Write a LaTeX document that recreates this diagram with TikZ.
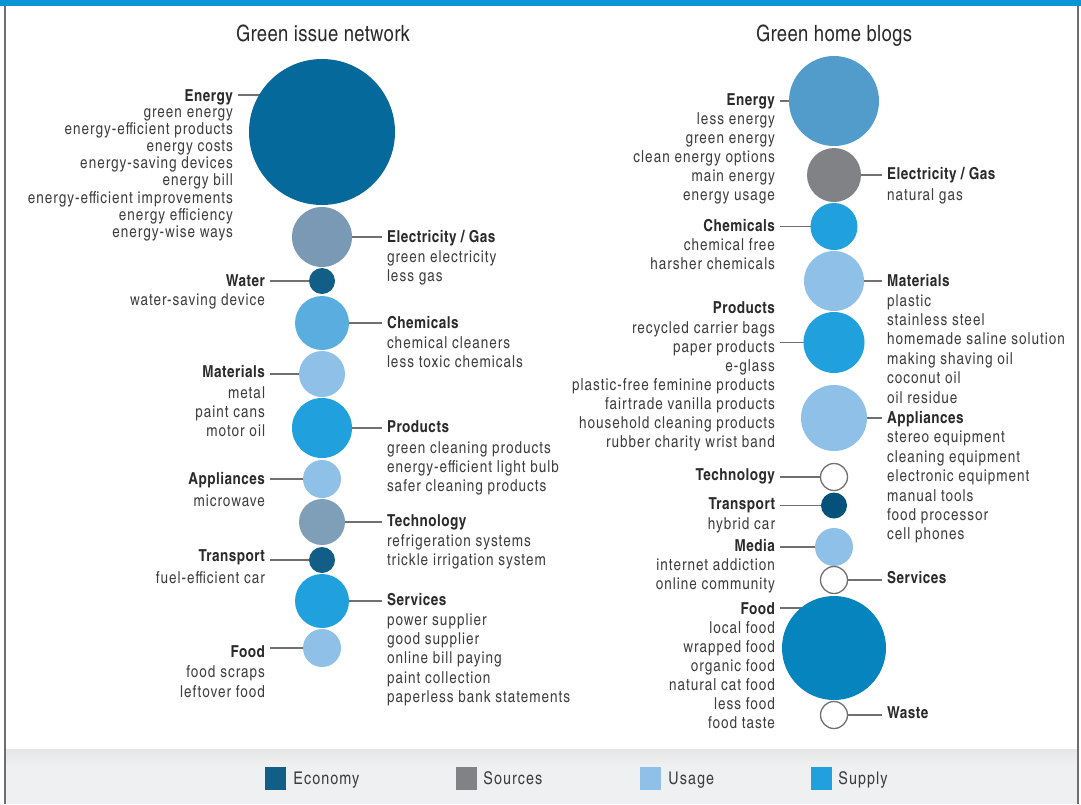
\documentclass[tikz,border=0pt]{standalone}
\usepackage{fontspec}
\setmainfont{texgyreheroscn}[Extension=.otf,UprightFont=*-regular,BoldFont=*-bold,ItalicFont=*-italic,BoldItalicFont=*-bolditalic,LetterSpace=6,BoldFeatures={LetterSpace=3}]
\newfontfamily\titlefont{texgyreheroscn}[Extension=.otf,UprightFont=*-regular,BoldFont=*-bold,LetterSpace=1.5]
\usetikzlibrary{positioning,backgrounds}

\definecolor{economy}{HTML}{135E86}
\definecolor{sources}{HTML}{808285}
\definecolor{usage}{HTML}{8FC0E8}
\definecolor{supply}{HTML}{20A0DC}
\definecolor{deepblue}{HTML}{05699B}
\definecolor{slateblue}{HTML}{7A99B5}
\definecolor{steelblue}{HTML}{7F9FB8}
\definecolor{midblue}{HTML}{5AAEDF}
\definecolor{skyblue}{HTML}{529CCB}
\definecolor{navyblue}{HTML}{04527C}
\definecolor{oceanblue}{HTML}{0584BE}
\definecolor{topbar}{HTML}{0A96D6}
\definecolor{framegray}{HTML}{6D6E71}
\definecolor{linegray}{HTML}{707070}
\definecolor{headgray}{HTML}{2A2A2A}
\definecolor{itemgray}{HTML}{3D3D3D}
\definecolor{legendgray}{HTML}{EFF0F2}

\begin{document}
\begin{tikzpicture}[x=1pt,y=-1pt,
		bubble/.style={circle,inner sep=0pt,minimum size=#1},
		hollow/.style={circle,inner sep=0pt,minimum size=27,draw=linegray,line width=1.3pt,fill=white},
		hd/.style={font=\bfseries\fontsize{16.5}{19.4}\selectfont,text=headgray,inner sep=0pt,outer xsep=5pt,text height=12pt,text depth=0pt},
		it/.style={font=\fontsize{16.5}{19.4}\selectfont,text=itemgray,inner sep=0pt,outer xsep=5pt,execute at begin node={\rule{0pt}{13pt}}},
		title/.style={font=\titlefont\fontsize{22.5}{26}\selectfont,text=headgray,inner sep=0pt,anchor=base},
		leader/.style={draw=linegray,line width=1.3pt},
		swatch/.style={rectangle,inner sep=0pt,minimum width=21,minimum height=23},
		keytext/.style={font=\fontsize{17.5}{20}\selectfont,text=itemgray,inner sep=0pt,text height=12.5pt,text depth=0pt}]
		
		\useasboundingbox (0,0) rectangle (1081,804);
		\fill[topbar] (0,0) rectangle (1081,6);
		\fill[legendgray] (5,749) rectangle (1078,804);
		\shade[top color=black!10,bottom color=legendgray] (5,749) rectangle (1078,766);
		\draw[framegray,line width=1.8pt] (5,6) -- (5,804) (1078,6) -- (1078,804);
		
		\node[title] (ititle) at (323,41) {Green issue network};
		\node[title] (btitle) at (834,41) {Green home blogs};
		
		\node[bubble=146,fill=deepblue] (ienergy) at (322,132) {};
		\node[bubble=60,fill=slateblue] (ielec) at (322,237) {};
		\node[bubble=26,fill=economy] (iwater) at (322,281) {};
		\node[bubble=54,fill=midblue] (ichem) at (322,323) {};
		\node[bubble=46,fill=usage] (imat) at (322,374) {};
		\node[bubble=60,fill=supply] (iprod) at (322,428) {};
		\node[bubble=38,fill=usage] (iappl) at (322,479) {};
		\node[bubble=46,fill=steelblue] (itech) at (322,522) {};
		\node[bubble=26,fill=economy] (itrans) at (322,560) {};
		\node[bubble=54,fill=supply] (iserv) at (322,601) {};
		\node[bubble=38,fill=usage] (ifood) at (322,648) {};
		
		\node[hd,anchor=base east] (ienergyhd) at (238,101) {Energy};
		\node[it,align=right,font=\fontsize{16.5}{17.1}\selectfont,below left=7.5pt and 0pt of ienergyhd.base east] (ienergyit) {green energy\\energy-efficient products\\energy costs\\energy-saving devices\\energy bill\\energy-efficient improvements\\energy efficiency\\energy-wise ways};
		\node[hd,anchor=base east] (iwaterhd) at (270,286) {Water};
		\node[it,align=right,below left=6pt and 0pt of iwaterhd.base east] (iwaterit) {water-saving device};
		\node[hd,anchor=base east] (imathd) at (270,377) {Materials};
		\node[it,align=right,below left=9pt and 0pt of imathd.base east] (imatit) {metal\\paint cans\\motor oil};
		\node[hd,anchor=base east] (iapplhd) at (270,484) {Appliances};
		\node[it,align=right,below left=9pt and 0pt of iapplhd.base east] (iapplit) {microwave};
		\node[hd,anchor=base east] (itranshd) at (270,561) {Transport};
		\node[it,align=right,below left=9pt and 0pt of itranshd.base east] (itransit) {fuel-efficient car};
		\node[hd,anchor=base east] (ifoodhd) at (270,657) {Food};
		\node[it,align=right,below left=8.5pt and 0pt of ifoodhd.base east] (ifoodit) {food scraps\\leftover food};
		
		\node[hd,anchor=base west] (ielechd) at (382,242) {Electricity / Gas};
		\node[it,align=left,below right=8.5pt and 0pt of ielechd.base west] (ielecit) {green electricity\\less gas};
		\node[hd,anchor=base west] (ichemhd) at (382,328) {Chemicals};
		\node[it,align=left,below right=8pt and 0pt of ichemhd.base west] (ichemit) {chemical cleaners\\less toxic chemicals};
		\node[hd,anchor=base west] (iprodhd) at (382,432) {Products};
		\node[it,align=left,below right=9pt and 0pt of iprodhd.base west] (iprodit) {green cleaning products\\energy-efficient light bulb\\safer cleaning products};
		\node[hd,anchor=base west] (itechhd) at (382,526) {Technology};
		\node[it,align=left,below right=8pt and 0pt of itechhd.base west] (itechit) {refrigeration systems\\trickle irrigation system};
		\node[hd,anchor=base west] (iservhd) at (382,605) {Services};
		\node[it,align=left,below right=8pt and 0pt of iservhd.base west] (iservit) {power supplier\\good supplier\\online bill paying\\paint collection\\paperless bank statements};
		
		\node[bubble=90,fill=skyblue] (benergy) at (834,101) {};
		\node[bubble=54,fill=sources] (belec) at (834,175) {};
		\node[bubble=47,fill=supply] (bchem) at (834,226.5) {};
		\node[bubble=60,fill=usage] (bmat) at (834,281) {};
		\node[bubble=61,fill=supply] (bprod) at (834,342.5) {};
		\node[bubble=66,fill=usage] (bappl) at (834,418) {};
		\node[hollow] (btech) at (834,477) {};
		\node[bubble=26,fill=navyblue] (btrans) at (834,505.5) {};
		\node[bubble=38,fill=usage] (bmedia) at (834,547) {};
		\node[hollow] (bserv) at (834,580) {};
		\node[bubble=104,fill=oceanblue] (bfood) at (834,648) {};
		\node[hollow] (bwaste) at (834,715) {};
		
		\node[hd,anchor=base east] (benergyhd) at (780,105) {Energy};
		\node[it,align=right,font=\fontsize{16.5}{19}\selectfont,below left=7pt and 0pt of benergyhd.base east] (benergyit) {less energy\\green energy\\clean energy options\\main energy\\energy usage};
		\node[hd,anchor=base east] (bchemhd) at (780,231) {Chemicals};
		\node[it,align=right,font=\fontsize{16.5}{19}\selectfont,below left=7.5pt and 0pt of bchemhd.base east] (bchemit) {chemical free\\harsher chemicals};
		\node[hd,anchor=base east] (bprodhd) at (780,313) {Products};
		\node[it,align=right,font=\fontsize{16.5}{19}\selectfont,below left=8pt and 0pt of bprodhd.base east] (bprodit) {recycled carrier bags\\paper products\\e-glass\\plastic-free feminine products\\fairtrade vanilla products\\household cleaning products\\rubber charity wrist band};
		\node[hd,anchor=base east] (btechhd) at (780,480) {Technology};
		\node[hd,anchor=base east] (btranshd) at (780,509) {Transport};
		\node[it,align=right,below left=7.5pt and 0pt of btranshd.base east] (btransit) {hybrid car};
		\node[hd,anchor=base east] (bmediahd) at (780,551) {Media};
		\node[it,align=right,font=\fontsize{16.5}{19}\selectfont,below left=7.5pt and 0pt of bmediahd.base east] (bmediait) {internet addiction\\online community};
		\node[hd,anchor=base east] (bfoodhd) at (780,614) {Food};
		\node[it,align=right,font=\fontsize{16.5}{19}\selectfont,below left=7.5pt and 0pt of bfoodhd.base east] (bfoodit) {local food\\wrapped food\\organic food\\natural cat food\\less food\\food taste};
		
		\node[hd,anchor=base west] (belechd) at (882,179) {Electricity / Gas};
		\node[it,align=left,below right=8pt and 0pt of belechd.base west] (belecit) {natural gas};
		\node[hd,anchor=base west] (bmathd) at (882,286) {Materials};
		\node[it,align=left,below right=8pt and 0pt of bmathd.base west] (bmatit) {plastic\\stainless steel\\homemade saline solution\\making shaving oil\\coconut oil\\oil residue};
		\node[hd,anchor=base west] (bapplhd) at (882,423) {Appliances};
		\node[it,align=left,below right=8pt and 0pt of bapplhd.base west] (bapplit) {stereo equipment\\cleaning equipment\\electronic equipment\\manual tools\\food processor\\cell phones};
		\node[hd,anchor=base west] (bservhd) at (882,583) {Services};
		\node[hd,anchor=base west] (bwastehd) at (882,718) {Waste};
		
		\begin{scope}[on background layer]
			\path[leader]
			(ienergyhd.east) -- (ienergyhd.east -| ienergy.center)
			(ielec.center) -- (ielec.center -| ielechd.west)
			(iwater.center) -- (iwater.center -| iwaterhd.east)
			(ichem.center) -- (ichem.center -| ichemhd.west)
			(imat.center) -- (imat.center -| imathd.east)
			(iprod.center) -- (iprod.center -| iprodhd.west)
			(iappl.center) -- (iappl.center -| iapplhd.east)
			(itech.center) -- (itech.center -| itechhd.west)
			(itrans.center) -- (itrans.center -| itranshd.east)
			(iserv.center) -- (iserv.center -| iservhd.west)
			(ifood.center) -- (ifood.center -| ifoodhd.east);
			\path[leader]
			(benergy.center) -- (benergy.center -| benergyhd.east)
			(belec.center) -- (belec.center -| belechd.west)
			(bchem.center) -- (bchem.center -| bchemhd.east)
			(bmat.center) -- (bmat.center -| bmathd.west)
			(bprod.center) -- (bprod.center -| bprodhd.east)
			(bappl.center) -- (bappl.center -| bapplhd.west)
			(btech.center) -- (btech.center -| btechhd.east)
			(btrans.center) -- (btrans.center -| btranshd.east)
			(bmedia.center) -- (bmedia.center -| bmediahd.east)
			(bserv.center) -- (bserv.center -| bservhd.west)
			(bfoodhd.east) -- (bfoodhd.east -| bfood.center)
			(bwaste.center) -- (bwaste.center -| bwastehd.west);
		\end{scope}
		
		\node[swatch,fill=economy] (keconomy) at (275.5,778.5) {};
		\node[keytext,right=7pt of keconomy] (teconomy) {Economy};
		\node[swatch,fill=sources] (ksources) at (466.5,778.5) {};
		\node[keytext,right=6pt of ksources] (tsources) {Sources};
		\node[swatch,fill=usage] (kusage) at (650.5,778.5) {};
		\node[keytext,right=7pt of kusage] (tusage) {Usage};
		\node[swatch,fill=supply] (ksupply) at (821.5,778.5) {};
		\node[keytext,right=6pt of ksupply] (tsupply) {Supply};
	\end{tikzpicture}
\end{document}
